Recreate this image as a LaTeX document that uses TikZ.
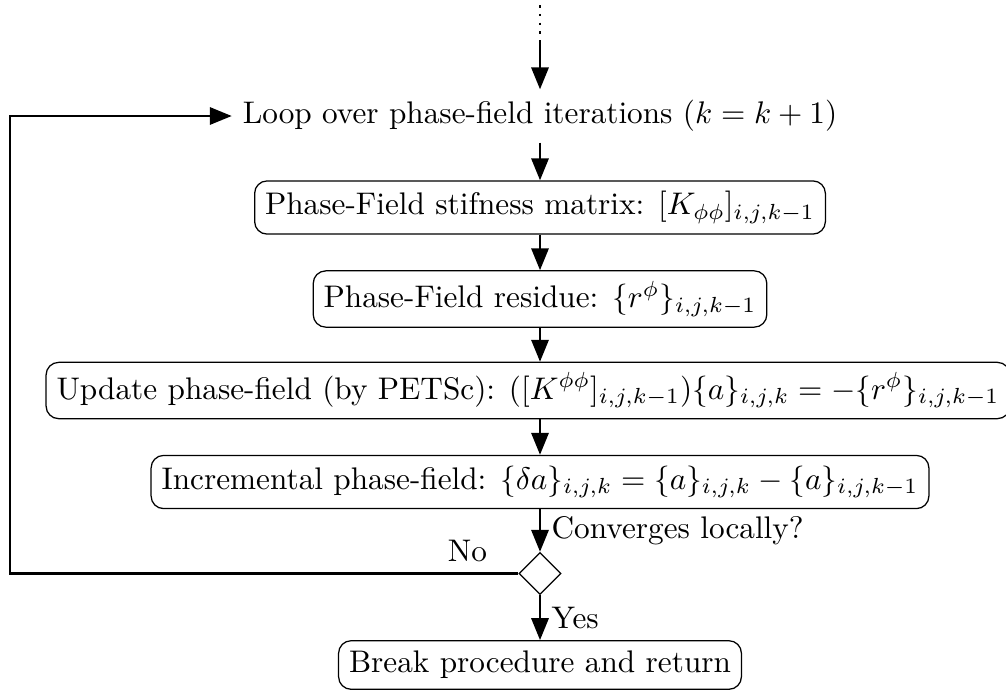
\documentclass[tikz,border=0pt]{standalone}
\usetikzlibrary{shapes.geometric,arrows.meta}
\begin{document}
\begin{tikzpicture}[x=0.32pt,y=-0.32pt,
  box/.style={draw, rounded corners=4pt, inner sep=3.33pt, line width=0.4pt},
  plain/.style={inner sep=3.33pt},
  arr/.style={-{Triangle[length=7pt,width=5.5pt]}, line width=0.8pt},
  lbl/.style={inner sep=3.33pt},
  dec/.style={draw, diamond, minimum size=13.5pt, inner sep=0pt, line width=0.4pt}
]
\useasboundingbox (0,0) rectangle (1006,690);
\coordinate (top) at (540,5);
\coordinate (dotend) at (540,42);
\node[plain] (loop) at (540,116) {Loop over phase-field iterations $(k=k+1)$};
\node[box] (stiff) at (540,207.5) {Phase-Field stifness matrix: $[K_{\phi\phi}]_{i,j,k-1}$};
\node[box] (res) at (540,299) {Phase-Field residue: $\{r^{\phi}\}_{i,j,k-1}$};
\node[box] (upd) at (528,390.5) {Update phase-field (by PETSc): $([K^{\phi\phi}]_{i,j,k-1})\{a\}_{i,j,k}=-\{r^{\phi}\}_{i,j,k-1}$};
\node[box] (inc) at (540,482) {Incremental phase-field: $\{\delta a\}_{i,j,k}=\{a\}_{i,j,k}-\{a\}_{i,j,k-1}$};
\node[dec] (dia) at (540,573.5) {};
\node[box] (brk) at (540,665) {Break procedure and return};
\coordinate (c1) at (10,573.5);
\coordinate (c2) at (10,116);
\draw[dotted, line width=0.8pt] (top) -- (dotend);
\draw[arr] (dotend) -- (loop);
\draw[arr] (loop) -- (stiff);
\draw[arr] (stiff) -- (res);
\draw[arr] (res.south) -- (res.south |- upd.north);
\draw[arr] (upd.south -| inc.north) -- (inc.north);
\draw[arr] (inc) -- node[lbl, right] {Converges locally?} (dia);
\draw[arr] (dia) -- node[lbl, right] {Yes} (brk);
\draw[arr] (dia.west) -- node[lbl, pos=0.1, above] {No} (c1) -- (c2) -- (loop.west);
\end{tikzpicture}
\end{document}
